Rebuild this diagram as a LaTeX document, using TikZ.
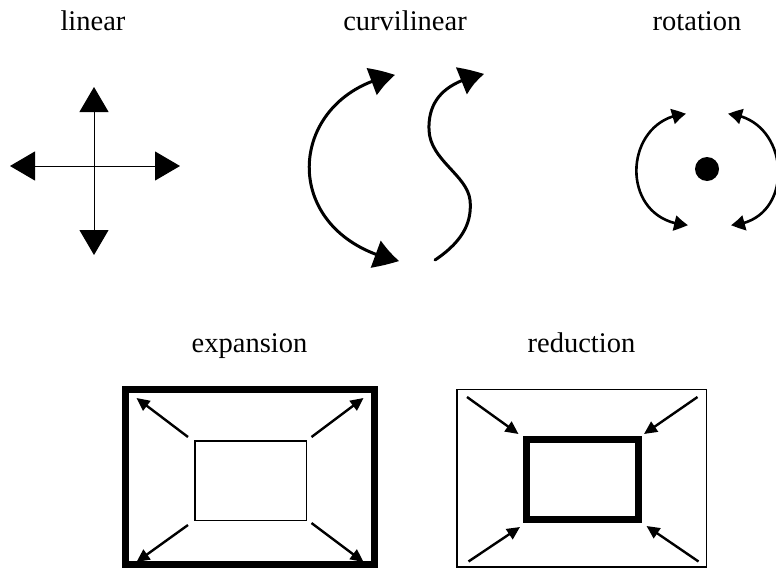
\documentclass[tikz,border=0pt]{standalone}
\usepackage{fontspec}
\setmainfont{Liberation Serif}
\usetikzlibrary{arrows.meta,bending}
\begin{document}
\begin{tikzpicture}[x=1pt,y=-1pt,
  lbl/.style={anchor=base,inner sep=0pt,font=\fontsize{28.5}{30}\selectfont},
  bigtip/.style={-{Triangle[length=25pt,width=29pt]}},
  curv/.style={line width=3pt,line cap=round},
  cboth/.style={{Triangle[length=25pt,width=28pt,bend]}-{Triangle[length=25pt,width=28pt,bend]}},
  cend/.style={-{Triangle[length=25pt,width=28pt,bend]}},
  rboth/.style={{Triangle[length=14pt,width=15pt,bend]}-{Triangle[length=14pt,width=15pt,bend]}},
  rarc/.style={line width=2.6pt},
  small/.style={line width=2.4pt,-{Triangle[length=13pt,width=12pt]}},
  thickbox/.style={line width=7pt},
  thinbox/.style={line width=1.5pt}]
\useasboundingbox (0,0) rectangle (776,573);
\clip (0,0) rectangle (776,573);
% labels
\node[lbl] (tlin) at (93,30) {linear};
\node[lbl] (tcur) at (405,30) {curvilinear};
\node[lbl] (trot) at (697,30) {rotation};
\node[lbl] (texp) at (249.5,352.5) {expansion};
\node[lbl] (tred) at (581.5,352.5) {reduction};
% linear
\coordinate (c) at (94,166);
\coordinate (up) at (94,87);
\coordinate (dn) at (94,255);
\coordinate (lf) at (10,166);
\coordinate (rt) at (180,166);
\draw[line width=1pt,bigtip] (c) -- (up);
\draw[line width=1pt,bigtip] (c) -- (dn);
\draw[line width=1pt,bigtip] (c) -- (lf);
\draw[line width=1pt,bigtip] (c) -- (rt);
% curvilinear
\coordinate (a1) at (395,75);
\coordinate (a2) at (399,261);
\draw[curv,cboth] (a1) .. controls (285,95) and (275,235) .. (a2);
\coordinate (s1) at (435,260);
\coordinate (s2) at (470,200);
\coordinate (s3) at (429,130);
\coordinate (s4) at (484,74);
\draw[curv,cend] (s1) .. controls (465,240) and (472,220) .. (s2)
  .. controls (467,175) and (430,160) .. (s3)
  .. controls (428,100) and (445,82) .. (s4);
% rotation
\node[circle,fill=black,minimum size=24pt,inner sep=0pt] (dot) at (707,169) {};
\coordinate (r1) at (686,114);
\coordinate (r2) at (688,225);
\coordinate (r3) at (728,114);
\coordinate (r4) at (731,225);
\draw[rarc,rboth] (r1) .. controls (622,118) and (617,222) .. (r2);
\draw[rarc,rboth] (r3) .. controls (792,118) and (797,222) .. (r4);
% expansion
\draw[thickbox] (125,389.5) rectangle (374,564.5);
\draw[thinbox] (195,441) rectangle (306.5,520.5);
\coordinate (e1) at (188,437); \coordinate (e1t) at (136.5,398);
\coordinate (e2) at (311.5,437); \coordinate (e2t) at (363.5,398);
\coordinate (e3) at (188,525); \coordinate (e3t) at (136.5,562);
\coordinate (e4) at (311.5,523); \coordinate (e4t) at (363.5,562);
\draw[small] (e1) -- (e1t);
\draw[small] (e2) -- (e2t);
\draw[small] (e3) -- (e3t);
\draw[small] (e4) -- (e4t);
% reduction
\draw[thinbox] (457,389.5) rectangle (706.5,567);
\draw[thickbox] (526.8,439.5) rectangle (638.8,519.8);
\coordinate (d1) at (467,397); \coordinate (d1t) at (518.5,434);
\coordinate (d2) at (697.5,397); \coordinate (d2t) at (644,434);
\coordinate (d3) at (468.5,561.5); \coordinate (d3t) at (520,527);
\coordinate (d4) at (698.5,561.5); \coordinate (d4t) at (646.5,526);
\draw[small] (d1) -- (d1t);
\draw[small] (d2) -- (d2t);
\draw[small] (d3) -- (d3t);
\draw[small] (d4) -- (d4t);
\end{tikzpicture}
\end{document}
